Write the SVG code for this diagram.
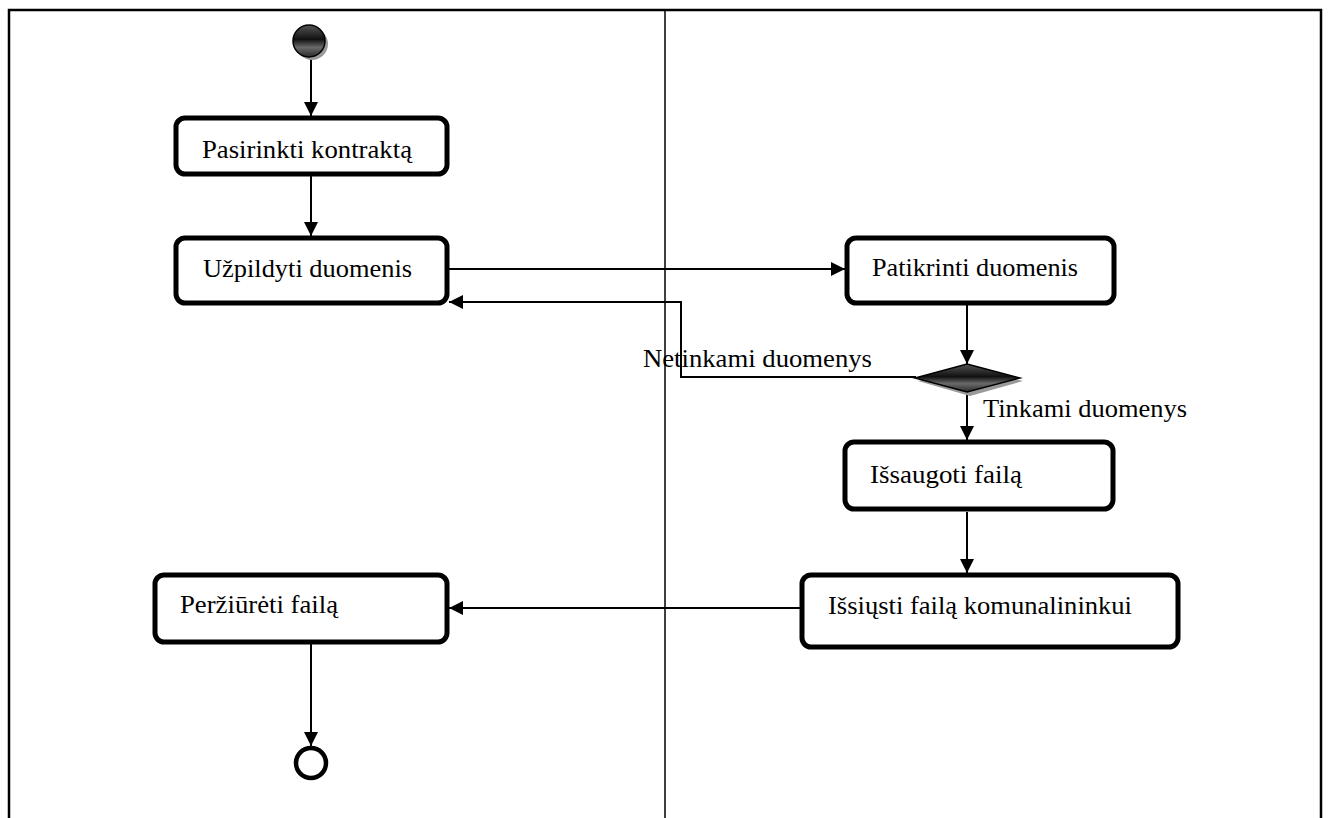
<svg xmlns="http://www.w3.org/2000/svg" width="1329" height="818" viewBox="0 0 1329 818">
  <style>
    .frame { fill: none; stroke: #000; stroke-width: 2.5; }
    .lane { stroke: #000; stroke-width: 1.5; }
    .action { fill: #fff; stroke: #000; stroke-width: 5; }
    .label { font-family: "Liberation Serif", "Times New Roman", serif; font-size: 26px; fill: #000; }
    .flow { fill: none; stroke: #000; stroke-width: 2; }
  </style>
  <defs>
    <marker id="arrow" viewBox="0 0 14 14" refX="14" refY="7" markerWidth="14" markerHeight="14" markerUnits="userSpaceOnUse" orient="auto">
      <path d="M0,0 L14,7 L0,14 Z" fill="#000"/>
    </marker>
    <linearGradient id="darkShade" x1="0" y1="0" x2="0" y2="1">
      <stop offset="0" stop-color="#555"/>
      <stop offset="0.45" stop-color="#111"/>
      <stop offset="0.7" stop-color="#6a6a6a"/>
      <stop offset="1" stop-color="#2a2a2a"/>
    </linearGradient>
  </defs>

  <rect width="1329" height="818" fill="#fff"/>

  <!-- swimlane frame -->
  <g id="lanes">
    <path class="frame" d="M9,818 V10 H1321 V818"/>
    <line class="lane" x1="665" y1="10" x2="665" y2="818"/>
  </g>

  <!-- connectors -->
  <g id="connectors">
    <line class="flow" x1="311" y1="56" x2="311" y2="116" marker-end="url(#arrow)"/>
    <line class="flow" x1="311" y1="175" x2="311" y2="236" marker-end="url(#arrow)"/>
    <line class="flow" x1="449" y1="269" x2="845" y2="269" marker-end="url(#arrow)"/>
    <line class="flow" x1="967" y1="305" x2="967" y2="364" marker-end="url(#arrow)"/>
    <polyline class="flow" points="916,377 681,377 681,302 449,302" marker-end="url(#arrow)"/>
    <line class="flow" x1="967" y1="392" x2="967" y2="440" marker-end="url(#arrow)"/>
    <line class="flow" x1="967" y1="512" x2="967" y2="573" marker-end="url(#arrow)"/>
    <line class="flow" x1="800" y1="608" x2="449" y2="608" marker-end="url(#arrow)"/>
    <line class="flow" x1="311" y1="644" x2="311" y2="746" marker-end="url(#arrow)"/>
  </g>

  <!-- guard labels -->
  <g id="guards">
    <text class="label" x="643" y="367" textLength="229" lengthAdjust="spacingAndGlyphs">Netinkami duomenys</text>
    <text class="label" x="983" y="417" textLength="204" lengthAdjust="spacingAndGlyphs">Tinkami duomenys</text>
  </g>

  <g id="start">
    <circle cx="312" cy="44" r="16" fill="#9a9a9a"/>
    <circle cx="309" cy="41" r="16" fill="url(#darkShade)" stroke="#000" stroke-width="1.5"/>
  </g>

  <g id="pasirinkti">
    <rect class="action" x="176" y="118" width="271" height="56" rx="9"/>
    <text class="label" x="202" y="158" textLength="210" lengthAdjust="spacingAndGlyphs">Pasirinkti kontraktą</text>
  </g>

  <g id="uzpildyti">
    <rect class="action" x="176" y="238" width="271" height="65" rx="9"/>
    <text class="label" x="203" y="277" textLength="209" lengthAdjust="spacingAndGlyphs">Užpildyti duomenis</text>
  </g>

  <g id="patikrinti">
    <rect class="action" x="847" y="238" width="267" height="65" rx="9"/>
    <text class="label" x="872" y="276" textLength="206" lengthAdjust="spacingAndGlyphs">Patikrinti duomenis</text>
  </g>

  <g id="decision">
    <polygon points="970,368 1023,381 970,396 918,381" fill="#9a9a9a"/>
    <polygon points="967,364 1020,378 967,392 915,378" fill="url(#darkShade)" stroke="#000" stroke-width="1.5"/>
  </g>

  <g id="issaugoti">
    <rect class="action" x="845" y="442" width="268" height="67" rx="9"/>
    <text class="label" x="870" y="483" textLength="152" lengthAdjust="spacingAndGlyphs">Išsaugoti failą</text>
  </g>

  <g id="issiusti">
    <rect class="action" x="802" y="575" width="376" height="72" rx="9"/>
    <text class="label" x="828" y="614" textLength="304" lengthAdjust="spacingAndGlyphs">Išsiųsti failą komunalininkui</text>
  </g>

  <g id="perziureti">
    <rect class="action" x="155" y="575" width="292" height="67" rx="9"/>
    <text class="label" x="180" y="613" textLength="158" lengthAdjust="spacingAndGlyphs">Peržiūrėti failą</text>
  </g>

  <g id="end">
    <circle cx="311" cy="763" r="15" fill="#fff" stroke="#000" stroke-width="4.5"/>
  </g>
</svg>
